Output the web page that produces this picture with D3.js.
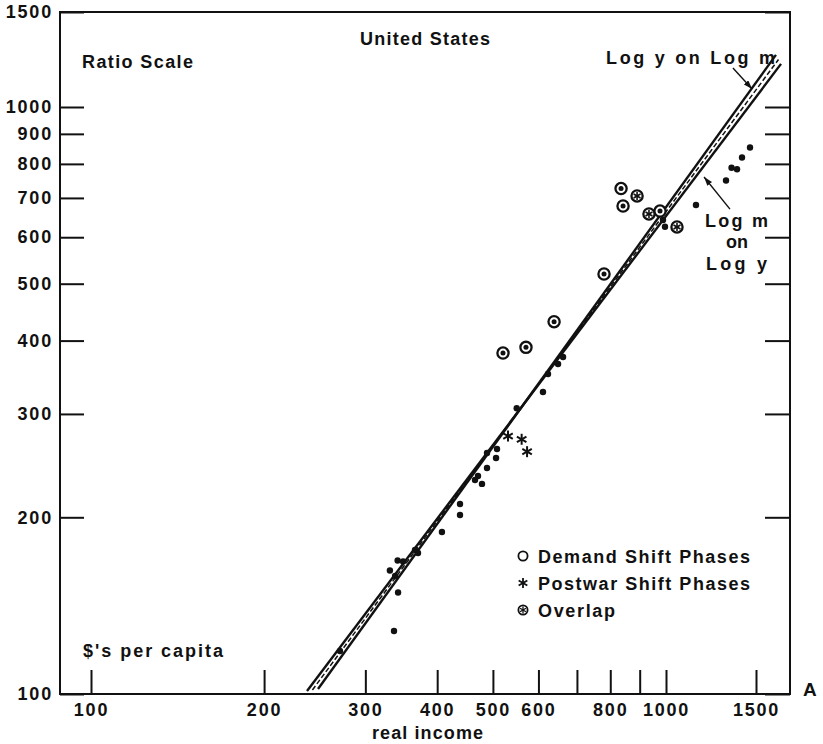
<!DOCTYPE html>
<html><head><meta charset="utf-8">
<script src="https://cdn.jsdelivr.net/npm/d3@7"></script>
<style>
body{margin:0;background:#fff;}
text{font-family:"Liberation Sans",Arial,Helvetica,sans-serif;font-weight:bold;fill:#111;}
</style></head><body>
<svg id="c" width="823" height="744"></svg>
<script>
// ---- data (real income x, $'s per capita y) ----
const xTicks = [100,200,300,400,500,600,700,800,900,1000,1500];
const xTickLabels = ["100","200","300","400","500","600","","800","","1000","1500"];
const yTicks = [100,200,300,400,500,600,700,800,900,1000,1500];
const yTickLabels = ["100","200","300","400","500","600","700","800","900","1000","1500"];

const basePoints = [[271,118.4],[336.5,128],[342,148.9],[331,162.3],[338,158.9],[341.4,168.8],[349,168.2],
  [366,176],[370.4,173.9],[407.7,188.8],[438.3,210.7],[438.3,201.8],[465.4,231.5],[471,235.2],[478.6,228],
  [488.3,242.7],[488.3,257.3],[508.3,261.4],[506.3,252.4],[550,306.7],[611,327],[623.4,350.9],[649,364.9],
  [662.2,375.1],[988,642],[996,625],[1144.6,680.8],[1310.5,749.6],[1343.5,788.1],[1377.1,783.2],[1408.3,820.3],[1460,853.1]];
const demandPoints = [[520.6,380.9],[570.8,389.5],[638.8,430.8],[780.2,519.4],[835.3,726.3],[842,678.2],[976.3,664.9]];
const postwarPoints = [[531.2,275.1],[561,271.6],[573.3,258.7]];
const overlapPoints = [[890.6,705.4],[934.1,657.3],[1050.8,624.7]];

const fitLogYonLogM = [[248.2,102.0],[1641,1249]];
const fitLogMonLogY = [[237.5,101.2],[1679,1202]];
const fitMiddle     = [[242.7,101.6],[1660,1225]];

const arrowYonM = [[1352,1181],[1474,1080]];
const arrowMonY = [[1334,670],[1187,760]];

// ---- layout ----
const L = 60, R = 790, T = 12, B = 694;
const svg = d3.select("#c");
const x = d3.scaleLog().domain([100,1000,1500]).range([91,666,756]);
const y = d3.scaleLog().domain([100,1000,1500]).range([B,107,T]);
const ink = "#111";

svg.append("defs").append("marker").attr("id","ah")
  .attr("viewBox","0 0 9 6").attr("refX",9).attr("refY",3)
  .attr("markerWidth",9).attr("markerHeight",6).attr("markerUnits","userSpaceOnUse")
  .attr("orient","auto")
  .append("path").attr("d","M0,0L9,3L0,6Z").attr("fill",ink);

// frame
svg.append("rect").attr("x",L).attr("y",T).attr("width",R-L).attr("height",B-T)
  .attr("fill","none").attr("stroke",ink).attr("stroke-width",2);

function styleAxis(g){
  g.select(".domain").remove();
  g.selectAll(".tick line").attr("stroke",ink).attr("stroke-width",2);
  g.selectAll(".tick text").attr("font-size",18).attr("fill",ink)
   .style("font-family",'"Liberation Sans",Arial,sans-serif').style("font-weight","bold")
   .style("letter-spacing","1.8px");
}
svg.append("g").attr("transform",`translate(0,${B})`)
  .call(d3.axisBottom(x).tickValues(xTicks).tickFormat((d,i)=>xTickLabels[i]).tickSize(-24).tickPadding(9))
  .call(styleAxis);
svg.append("g").attr("transform",`translate(${L},0)`)
  .call(d3.axisLeft(y).tickValues(yTicks).tickFormat((d,i)=>yTickLabels[i]).tickSize(-24).tickPadding(7))
  .call(styleAxis);
svg.append("g").attr("transform",`translate(${R},0)`)
  .call(d3.axisRight(y).tickValues(yTicks).tickFormat("").tickSize(-25))
  .call(styleAxis);

// fitted lines
const ln = d3.line().x(d=>x(d[0])).y(d=>y(d[1]));
svg.append("path").attr("d",ln(fitLogMonLogY)).attr("stroke",ink).attr("stroke-width",2.4).attr("fill","none");
svg.append("path").attr("d",ln(fitLogYonLogM)).attr("stroke",ink).attr("stroke-width",2.4).attr("fill","none");
svg.append("path").attr("d",ln(fitMiddle)).attr("stroke",ink).attr("stroke-width",1.5)
  .attr("stroke-dasharray","5,2.5").attr("fill","none");

// arrows
[arrowYonM, arrowMonY].forEach(a=>{
  svg.append("path").attr("d",ln(a)).attr("stroke",ink).attr("stroke-width",1.4)
    .attr("fill","none").attr("marker-end","url(#ah)");
});

// markers
function asterisk(g, cx, cy, r, w){
  [90,30,150].forEach(a=>{
    const t=a*Math.PI/180, dx=r*Math.cos(t), dy=r*Math.sin(t);
    g.append("line").attr("x1",cx-dx).attr("y1",cy-dy).attr("x2",cx+dx).attr("y2",cy+dy)
      .attr("stroke",ink).attr("stroke-width",w);
  });
}
const gp = svg.append("g");
basePoints.forEach(d=>gp.append("circle").attr("cx",x(d[0])).attr("cy",y(d[1])).attr("r",3.2).attr("fill",ink));
demandPoints.forEach(d=>{
  gp.append("circle").attr("cx",x(d[0])).attr("cy",y(d[1])).attr("r",5.6).attr("fill","#fff").attr("stroke",ink).attr("stroke-width",2.3);
  gp.append("circle").attr("cx",x(d[0])).attr("cy",y(d[1])).attr("r",2.5).attr("fill",ink);
});
overlapPoints.forEach(d=>{
  gp.append("circle").attr("cx",x(d[0])).attr("cy",y(d[1])).attr("r",5.6).attr("fill","#fff").attr("stroke",ink).attr("stroke-width",2.3);
  asterisk(gp, x(d[0]), y(d[1]), 4, 1.6);
});
postwarPoints.forEach(d=>asterisk(gp, x(d[0]), y(d[1]), 5.5, 2));

// texts
function txt(s, tx, ty, w, size){
  const t = svg.append("text").attr("x",tx).attr("y",ty).attr("font-size",size||18).attr("fill",ink).text(s);
  if(w) t.attr("textLength",w).attr("lengthAdjust","spacing");
  return t;
}
txt("Ratio Scale", 82, 68, 111);
txt("United States", 360, 45, 130);
txt("Log y on Log m", 606, 64, 169);
txt("Log m", 705, 227, 63);
txt("on", 726, 248, 22);
txt("Log y", 706, 270, 61);
txt("$'s per capita", 83, 657, 140);
txt("real income", 372, 739, 111);
txt("A", 803, 696, null, 19);

// legend
txt("Demand Shift Phases", 538, 563, 212);
txt("Postwar Shift Phases", 538, 590, 212);
txt("Overlap", 538, 617, 77);
svg.append("circle").attr("cx",523).attr("cy",556).attr("r",4.6).attr("fill","none").attr("stroke",ink).attr("stroke-width",1.8);
asterisk(svg, 523, 583, 5, 1.8);
svg.append("circle").attr("cx",523).attr("cy",610).attr("r",4.6).attr("fill","#fff").attr("stroke",ink).attr("stroke-width",1.8);
asterisk(svg, 523, 610, 3.4, 1.3);
</script>
</body></html>
